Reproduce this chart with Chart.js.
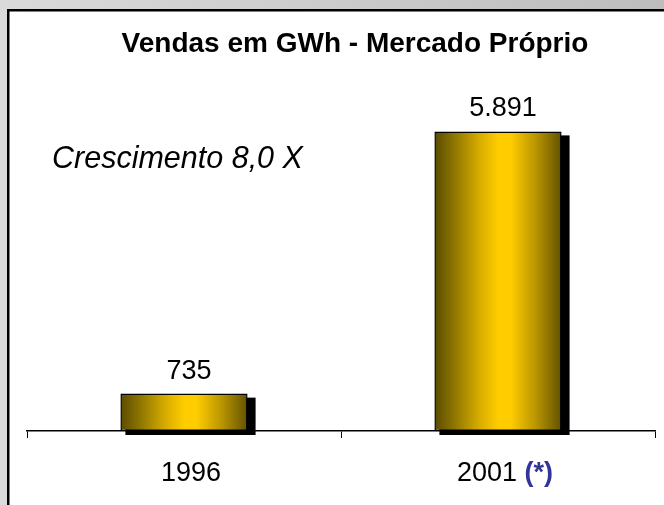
<!DOCTYPE html>
<html>
<head>
<meta charset="utf-8">
<script src="https://cdn.jsdelivr.net/npm/chart.js@4.4.0/dist/chart.umd.min.js"></script>
<style>
    body { margin: 0; background: #d0d0d0; }
    canvas { display: block; }
</style>
</head>
<body>
<canvas id="vendas" width="664" height="505"></canvas>
<script>
// dados do gráfico
var anos = ['1996', '2001'];
var notas = ['', '(*)'];
var vendasGWh = [735, 5891];
var rotulosValores = ['735', '5.891'];
var titulo = 'Vendas em GWh - Mercado Próprio';
var textoCrescimento = 'Crescimento 8,0 X';

var larguraBarra = 0.405;

// degradê dourado horizontal em cada barra
function corBarra(c) {
    var chart = c.chart;
    var escala = chart.scales.x;
    if (!chart.chartArea || !escala) {
        return '#ffcc00';
    }
    var x = escala.getPixelForValue(c.dataIndex);
    var meia = escala.width / anos.length * larguraBarra / 2;
    var g = chart.ctx.createLinearGradient(x - meia, 0, x + meia, 0);
    g.addColorStop(0, '#5a4b00');
    g.addColorStop(0.15, '#8c7400');
    g.addColorStop(0.35, '#d6ab00');
    g.addColorStop(0.5, '#ffcc00');
    g.addColorStop(0.6, '#ffcc00');
    g.addColorStop(0.8, '#b89400');
    g.addColorStop(1, '#625200');
    return g;
}

var fundo = {
    id: 'fundo',
    beforeDraw: function (chart) {
        var ctx = chart.ctx;
        ctx.save();
        var g = ctx.createLinearGradient(0, 0, chart.width, 0);
        g.addColorStop(0, '#dadada');
        g.addColorStop(1, '#bdbdbd');
        ctx.fillStyle = g;
        ctx.fillRect(0, 0, chart.width, chart.height);
        ctx.fillStyle = '#ffffff';
        ctx.fillRect(8, 10, chart.width, chart.height);
        ctx.strokeStyle = '#000000';
        ctx.lineWidth = 2.5;
        ctx.beginPath();
        ctx.moveTo(8.25, chart.height + 5);
        ctx.lineTo(8.25, 10.25);
        ctx.lineTo(chart.width + 5, 10.25);
        ctx.stroke();

        // título
        ctx.fillStyle = '#000000';
        ctx.font = 'bold 28px "Liberation Sans", Arial, sans-serif';
        ctx.textAlign = 'center';
        ctx.textBaseline = 'alphabetic';
        ctx.fillText(titulo, 355, 52);

        // crescimento
        ctx.font = 'italic 30.5px "Liberation Sans", Arial, sans-serif';
        ctx.textAlign = 'left';
        ctx.fillText(textoCrescimento, 52, 168);
        ctx.restore();
    }
};

// sombra preta atrás das barras
var sombra = {
    id: 'sombra',
    beforeDatasetsDraw: function (chart) {
        var ctx = chart.ctx;
        ctx.save();
        ctx.fillStyle = '#000000';
        chart.getDatasetMeta(0).data.forEach(function (barra) {
            var esq = barra.x - barra.width / 2;
            var dir = barra.x + barra.width / 2;
            ctx.fillRect(esq + 5, barra.y + 4, dir - esq + 3, barra.base - barra.y);
        });
        ctx.restore();
    }
};

// rótulos dos valores e das categorias
var rotulos = {
    id: 'rotulos',
    afterDatasetsDraw: function (chart) {
        var ctx = chart.ctx;
        var escala = chart.scales.x;
        ctx.save();
        ctx.font = '27px "Liberation Sans", Arial, sans-serif';
        ctx.textBaseline = 'alphabetic';
        ctx.fillStyle = '#000000';
        chart.getDatasetMeta(0).data.forEach(function (barra, i) {
            ctx.textAlign = 'center';
            ctx.fillText(rotulosValores[i], barra.x + 5, barra.y - 15);
        });
        anos.forEach(function (ano, i) {
            var x = escala.getPixelForValue(i) + 7;
            var texto = ano + (notas[i] ? ' ' : '');
            ctx.font = '27px "Liberation Sans", Arial, sans-serif';
            var w1 = ctx.measureText(texto).width;
            ctx.font = 'bold 27px "Liberation Sans", Arial, sans-serif';
            var w2 = notas[i] ? ctx.measureText(notas[i]).width : 0;
            var inicio = x - (w1 + w2) / 2;
            ctx.textAlign = 'left';
            ctx.font = '27px "Liberation Sans", Arial, sans-serif';
            ctx.fillStyle = '#000000';
            ctx.fillText(texto, inicio, 481);
            if (notas[i]) {
                ctx.font = 'bold 27px "Liberation Sans", Arial, sans-serif';
                ctx.fillStyle = '#333399';
                ctx.fillText(notas[i], inicio + w1, 481);
            }
        });
        ctx.restore();
    }
};

var ctx = document.getElementById('vendas').getContext('2d');
var graficoVendas = new Chart(ctx, {
    type: 'bar',
    data: {
        labels: anos,
        datasets: [{
            label: 'Vendas em GWh',
            data: vendasGWh,
            backgroundColor: corBarra,
            borderColor: '#000000',
            borderWidth: 1.5,
            borderSkipped: false,
            categoryPercentage: 1,
            barPercentage: larguraBarra
        }]
    },
    options: {
        responsive: false,
        animation: false,
        layout: {
            padding: { left: 27, right: 9, top: 75, bottom: 0 }
        },
        plugins: {
            legend: { display: false },
            title: { display: false },
            tooltip: { enabled: false }
        },
        scales: {
            x: {
                grid: {
                    offset: true,
                    drawOnChartArea: false,
                    drawTicks: true,
                    tickLength: 7,
                    color: '#000000'
                },
                border: { display: true, color: '#000000', width: 1.5 },
                ticks: { display: false },
                afterFit: function (escala) {
                    escala.height = 74;
                }
            },
            y: {
                display: false,
                min: 0,
                max: 7000
            }
        }
    },
    plugins: [fundo, sombra, rotulos]
});
</script>
</body>
</html>
